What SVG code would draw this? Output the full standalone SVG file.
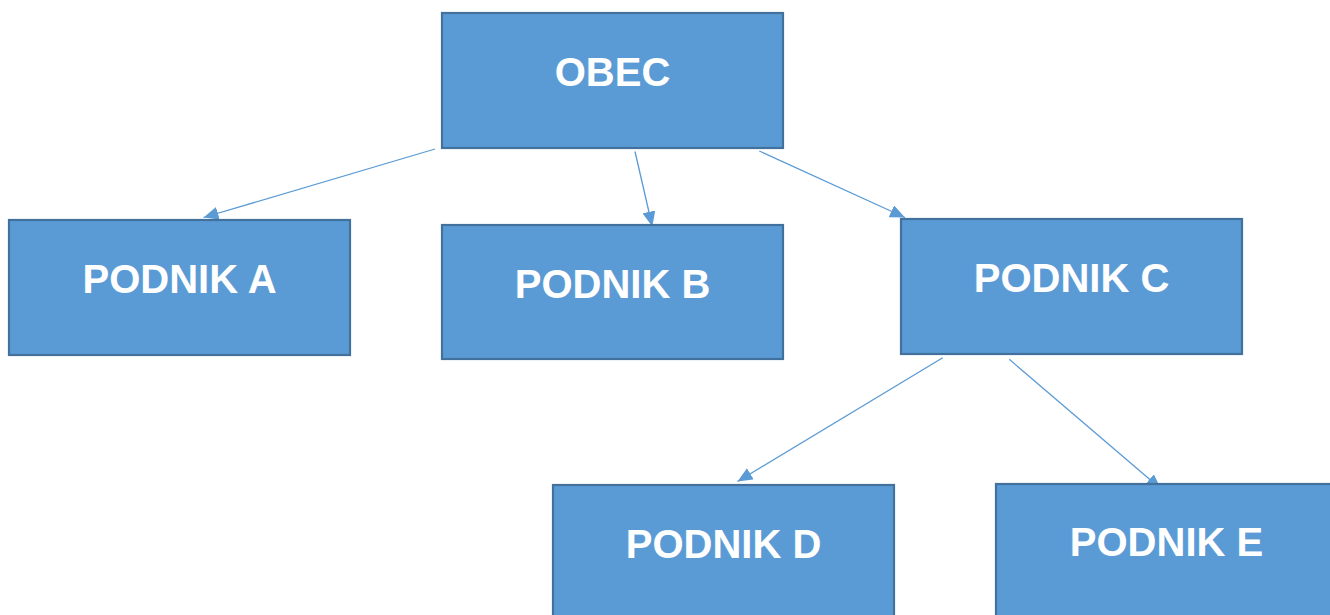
<svg xmlns="http://www.w3.org/2000/svg" width="1330" height="615" viewBox="0 0 1330 615">
  <style>
    .box { fill: #5B9BD5; stroke: #41719C; stroke-width: 2.2; }
    .lbl { font-family: "Liberation Sans", Arial, sans-serif; font-weight: bold; font-size: 40px; fill: #FFFFFF; text-anchor: middle; }
    .conn { stroke: #5B9BD5; stroke-width: 1.3; fill: none; marker-end: url(#arrow); }
  </style>
  <defs>
    <marker id="arrow" markerUnits="userSpaceOnUse" markerWidth="16" markerHeight="13" refX="15" refY="6.5" orient="auto">
      <path d="M0,0 L15,6.5 L0,13 z" fill="#5B9BD5"/>
    </marker>
  </defs>
  <rect width="1330" height="615" fill="#FFFFFF"/>
  <g id="connectors">
    <line class="conn" x1="435" y1="149" x2="203.5" y2="217.5"/>
    <line class="conn" x1="635" y1="151.5" x2="652.3" y2="226.5"/>
    <line class="conn" x1="759.3" y1="151" x2="905" y2="217.5"/>
    <line class="conn" x1="942.7" y1="357.7" x2="737.5" y2="481.5"/>
    <line class="conn" x1="1009.3" y1="359.3" x2="1161" y2="489"/>
  </g>
  <g id="node-obec">
    <rect class="box" x="442" y="13" width="341" height="135"/>
    <text class="lbl" x="612.5" y="86">OBEC</text>
  </g>
  <g id="node-podnik-a">
    <rect class="box" x="9" y="220" width="341" height="135"/>
    <text class="lbl" x="179.5" y="293">PODNIK A</text>
  </g>
  <g id="node-podnik-b">
    <rect class="box" x="442" y="225" width="341" height="134"/>
    <text class="lbl" x="612.5" y="298">PODNIK B</text>
  </g>
  <g id="node-podnik-c">
    <rect class="box" x="901" y="219" width="341" height="135"/>
    <text class="lbl" x="1071.5" y="291.5">PODNIK C</text>
  </g>
  <g id="node-podnik-d">
    <rect class="box" x="553" y="485" width="341" height="140"/>
    <text class="lbl" x="723.5" y="558">PODNIK D</text>
  </g>
  <g id="node-podnik-e">
    <rect class="box" x="996" y="484" width="341" height="140"/>
    <text class="lbl" x="1166.5" y="555.5">PODNIK E</text>
  </g>
</svg>
